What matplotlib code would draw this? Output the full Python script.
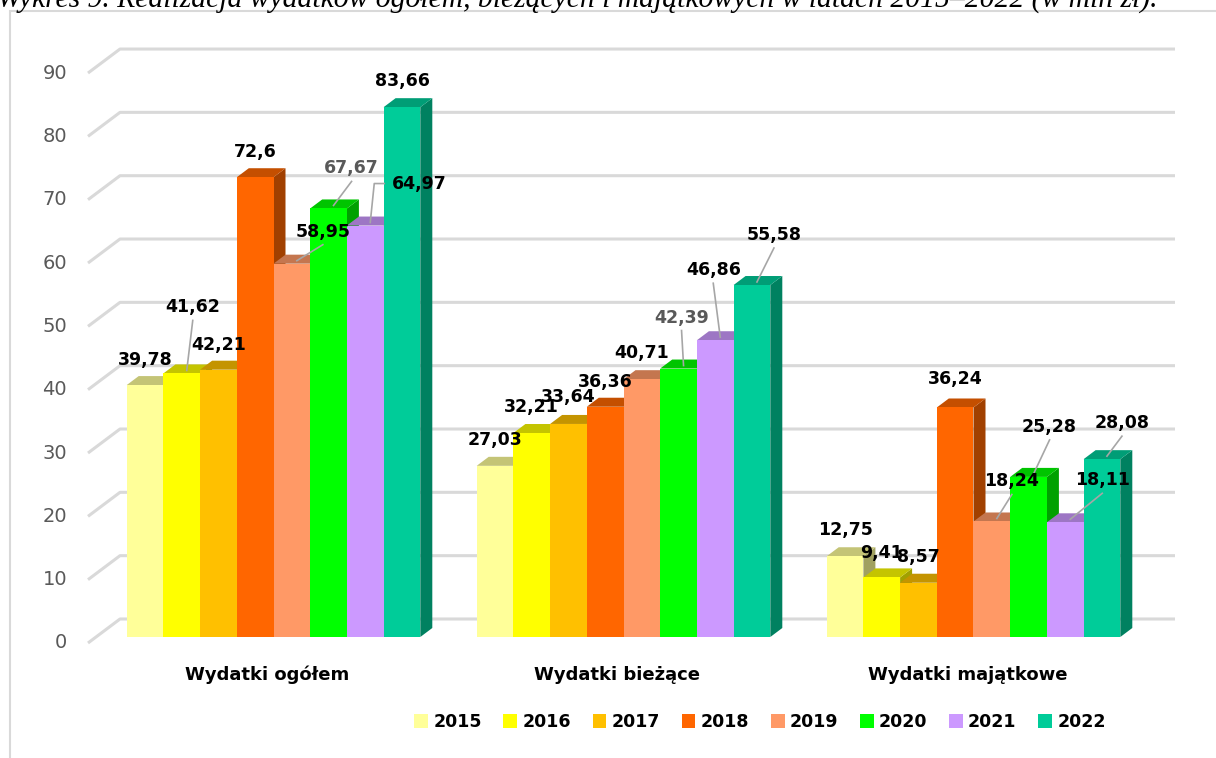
import numpy as np
import matplotlib.pyplot as plt
from matplotlib.patches import Polygon, Rectangle, Patch

# data (mln zł)
categories = ['Wydatki ogółem', 'Wydatki bieżące', 'Wydatki majątkowe']
years = ['2015', '2016', '2017', '2018', '2019', '2020', '2021', '2022']
ogolem = [39.78, 41.62, 42.21, 72.6, 58.95, 67.67, 64.97, 83.66]
biezace = [27.03, 32.21, 33.64, 36.36, 40.71, 42.39, 46.86, 55.58]
majatkowe = [12.75, 9.41, 8.57, 36.24, 18.24, 25.28, 18.11, 28.08]
yticks = [0, 10, 20, 30, 40, 50, 60, 70, 80, 90]

colors = ['#FFFF99', '#FFFF00', '#FFC000', '#FF6600',
          '#FF9966', '#00FF00', '#CC99FF', '#00CC99']

# label offsets from bar top (pixels, right/up), grey labels, leader lines
label_off = [
    [(0, 25), (11, 66), (0, 25), (0, 25), (31, 32), (23, 40), (54, 42), (0, 26)],
    [(0, 26), (0, 26), (0, 27), (0, 25), (0, 26), (3, 51), (-2, 70), (22, 50)],
    [(0, 26), (0, 24), (0, 26), (0, 28), (20, 40), (21, 50), (37, 42), (20, 36)],
]
grey_labels = {(0, 5), (1, 5)}

W, H = 1216, 758
GROUP_PX = 350.0   # pixels between categories
ORIGIN_X = 273.5   # pixel x of first category centre
ZERO_Y = 637.0     # pixel y (from top) of value 0 on bar fronts
UNIT = 6.333       # pixels per 1 mln zł
BAR_W = 36.7 / GROUP_PX
DEPTH_X, DEPTH_Y = 12 / GROUP_PX, 9 / UNIT


def fx(px):
    return (px - ORIGIN_X) / GROUP_PX


def fmt(v):
    return ('%g' % v).replace('.', ',')


def shade(c, f):
    r, g, b = [int(c[i:i + 2], 16) / 255 for i in (1, 3, 5)]
    return (r * f, g * f, b * f)


fig = plt.figure(figsize=(W / 100, H / 100), dpi=100)
ax = fig.add_axes([0, 0, 1, 1])
ax.set_xlim(fx(0), fx(W))
ax.set_ylim(-(H - ZERO_Y) / UNIT, ZERO_Y / UNIT)
ax.axis('off')

# frame
fig.patches.append(Rectangle((10 / W, -0.02), 1.2, 1 - 11 / H + 0.02,
                             transform=fig.transFigure, fill=False,
                             edgecolor='#d9d9d9', lw=1.5))

# title (cut at the top like in the source)
title = fig.text(-3 / W, 1 - 7 / H,
                 'Wykres 9. Realizacja wydatków ogółem, bieżących i majątkowych '
                 'w latach 2015–2022 (w mln zł).',
                 family='Liberation Serif', style='italic', fontsize=20,
                 va='baseline', ha='left')
fig.canvas.draw()
bw = title.get_window_extent().width
title.set_fontsize(20 * 1160 / bw)

# walls / gridlines
for t in yticks:
    ax.plot([fx(88), fx(120), fx(1175)],
            [t - 6 / UNIT, t + 18 / UNIT, t + 18 / UNIT],
            color='#d9d9d9', lw=2.2, solid_capstyle='butt', zorder=1)
    ax.text(fx(67), t - 6 / UNIT, str(t), ha='right', va='center',
            fontsize=14, color='#595959')

groups = [ogolem, biezace, majatkowe]
z = 2
for g, vals in enumerate(groups):
    for i, v in enumerate(vals):
        x0 = g - 4 * BAR_W + i * BAR_W
        x1 = x0 + BAR_W
        c = colors[i]
        front = Rectangle((x0, 0), BAR_W, v, facecolor=c, edgecolor='none', zorder=z)
        top = Polygon([(x0, v), (x1, v), (x1 + DEPTH_X, v + DEPTH_Y),
                       (x0 + DEPTH_X, v + DEPTH_Y)],
                      facecolor=shade(c, 0.77), edgecolor='none', zorder=z)
        side = Polygon([(x1, 0), (x1 + DEPTH_X, DEPTH_Y),
                        (x1 + DEPTH_X, v + DEPTH_Y), (x1, v)],
                       facecolor=shade(c, 0.63), edgecolor='none', zorder=z)
        ax.add_patch(side)
        ax.add_patch(top)
        ax.add_patch(front)
        z += 1

        # value label
        dx, dy = label_off[g][i]
        cx = (x0 + x1) / 2
        lx, ly = cx + dx / GROUP_PX, v + dy / UNIT
        col = '#595959' if (g, i) in grey_labels else 'black'
        ax.text(lx, ly, fmt(v), ha='center', va='center', fontsize=12.5,
                fontweight='bold', color=col, zorder=100)
        if abs(dx) > 5 or dy > 35:
            tx, ty = cx + 5 / GROUP_PX, v + 3 / UNIT
            if dx > 45:
                ax.plot([lx - 35 / GROUP_PX, lx - 45 / GROUP_PX, tx],
                        [ly, ly, ty], color='#a6a6a6', lw=1.2, zorder=99)
            else:
                ax.plot([lx, tx], [ly - 13 / UNIT, ty], color='#a6a6a6',
                        lw=1.2, zorder=99)

# category labels
for g, name in enumerate(categories):
    ax.text(g - 6 / GROUP_PX, -38 / UNIT, name, ha='center', va='center',
            fontsize=13, fontweight='bold', color='black')

handles = [Patch(facecolor=c, edgecolor='none') for c in colors]
fig.legend(handles, years, loc='center', ncol=8, frameon=False,
           bbox_to_anchor=(760 / W, 1 - 722 / H),
           prop={'weight': 'bold', 'size': 12.5},
           handlelength=0.8, handleheight=0.86, handletextpad=0.3,
           columnspacing=1.24)

fig.savefig('out.png', dpi=100)
